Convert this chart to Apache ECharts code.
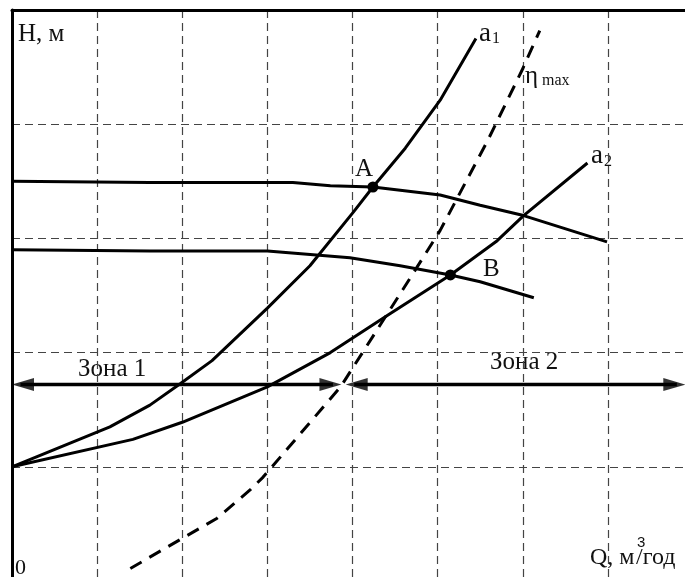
<!DOCTYPE html>
<html>
<head>
<meta charset="utf-8">
<script src="https://cdn.jsdelivr.net/npm/echarts@6/dist/echarts.min.js"></script>
<style>
  html, body { margin: 0; padding: 0; background: #fff; }
  #chart { width: 685px; height: 577px; }
</style>
</head>
<body>
<div id="chart"></div>
<script>
// Pump head curves H(Q) for two speeds
const pumpHigh = [[0, 3.50], [1.62, 3.49], [3.30, 3.49], [3.74, 3.46], [4.24, 3.45], [5.03, 3.38], [5.50, 3.29], [6.01, 3.20], [6.99, 2.97]];
const pumpLow = [[0, 2.90], [1.62, 2.89], [3.00, 2.89], [3.97, 2.83], [4.56, 2.76], [5.15, 2.68], [5.50, 2.62], [6.13, 2.48]];
// System characteristics a1 and a2
const systemA1 = [[0, 1.00], [1.15, 1.35], [1.62, 1.54], [1.98, 1.73], [2.35, 1.93], [3.00, 2.39], [3.50, 2.76], [4.01, 3.23], [4.24, 3.45], [4.62, 3.79], [5.03, 4.21], [5.45, 4.75]];
const systemA2 = [[0, 1.00], [1.42, 1.24], [2.00, 1.39], [3.00, 1.70], [3.74, 2.00], [4.44, 2.34], [5.15, 2.68], [5.70, 2.98], [6.01, 3.20], [6.76, 3.66]];
// Line of maximum efficiency
const etaMax = [[1.39, 0.11], [2.41, 0.55], [2.80, 0.80], [2.95, 0.91], [3.86, 1.70], [4.59, 2.55], [5.03, 3.07], [5.59, 3.86], [5.99, 4.47], [6.20, 4.82]];
// Operating points
const pointA = [4.24, 3.45];
const pointB = [5.15, 2.68];
// Zone arrows: level and [start, end] of each double-headed arrow
const zoneLevel = 1.72;
const zone1 = [0, 3.87];
const zone2 = [3.92, 7.91];

const FONT = 'Liberation Serif';
const HEAD_LEN = 22, HEAD_W = 13;
const chart = echarts.init(document.getElementById('chart'));

function txt(text, x, y, size, family) {
  return {
    type: 'text', left: x, top: y - size / 2,
    style: { text: text, fontFamily: family || FONT, fontSize: size, fill: '#111', verticalAlign: 'top' }
  };
}

// Arrow tips: triangle rotated to point outward, shifted so its point sits on the end value
function tip(x, pointsLeft) {
  return {
    value: [x, zoneLevel],
    symbolRotate: pointsLeft ? 90 : -90,
    symbolOffset: [pointsLeft ? HEAD_LEN / 2 : -HEAD_LEN / 2, 0]
  };
}

const solid = { color: '#000', width: 3 };
const shaft = { color: '#000', width: 3.5 };

chart.setOption({
  animation: false,
  grid: { left: 12, top: 10, width: 681, height: 571, outerBoundsMode: 'none', containLabel: false },
  xAxis: {
    type: 'value', position: 'top', min: 0, max: 8, interval: 1,
    axisLine: { show: true, onZero: false, lineStyle: { color: '#000', width: 3 } },
    axisTick: { show: false }, axisLabel: { show: false },
    splitLine: { show: true, lineStyle: { color: '#444', width: 1.2, type: [8, 5] } }
  },
  yAxis: {
    type: 'value', min: 0, max: 5, interval: 1,
    axisLine: { show: true, onZero: false, lineStyle: { color: '#000', width: 3 } },
    axisTick: { show: false }, axisLabel: { show: false },
    splitLine: { show: true, lineStyle: { color: '#444', width: 1.2, type: [8, 5] } }
  },
  series: [
    { type: 'line', data: pumpHigh, symbol: 'none', lineStyle: solid },
    { type: 'line', data: pumpLow, symbol: 'none', lineStyle: solid },
    { type: 'line', data: systemA1, symbol: 'none', lineStyle: solid },
    { type: 'line', data: systemA2, symbol: 'none', lineStyle: solid },
    { type: 'line', data: etaMax, symbol: 'none', lineStyle: { color: '#000', width: 3, type: [13, 9] } },
    { type: 'line', data: [[zone1[0] + 0.1, zoneLevel], [zone1[1] - 0.1, zoneLevel]], symbol: 'none', lineStyle: shaft },
    { type: 'line', data: [[zone2[0] + 0.1, zoneLevel], [zone2[1] - 0.1, zoneLevel]], symbol: 'none', lineStyle: shaft },
    { type: 'scatter', symbol: 'triangle', symbolSize: [HEAD_W, HEAD_LEN], itemStyle: { color: '#000' },
      data: [tip(zone1[0], true), tip(zone1[1], false), tip(zone2[0], true), tip(zone2[1], false)] },
    { type: 'scatter', data: [pointA, pointB], symbol: 'circle', symbolSize: 11, itemStyle: { color: '#000', opacity: 1 } }
  ],
  graphic: [
    txt('H, м', 18, 34, 25),
    txt('0', 15, 568, 22),
    txt('Q, м', 590, 558, 24),
    txt('3', 637, 543, 15, 'Liberation Sans'),
    txt('/год', 636, 558, 24),
    txt('Зона 1', 78, 369, 25),
    txt('Зона 2', 490, 362, 25),
    txt('A', 355, 169, 25),
    txt('B', 483, 269, 25),
    txt('a', 479, 34, 27),
    txt('1', 492, 39, 16),
    txt('η', 525, 76, 25),
    txt('max', 542, 81, 16),
    txt('a', 591, 156, 27),
    txt('2', 604, 162, 16)
  ]
});
</script>
</body>
</html>
